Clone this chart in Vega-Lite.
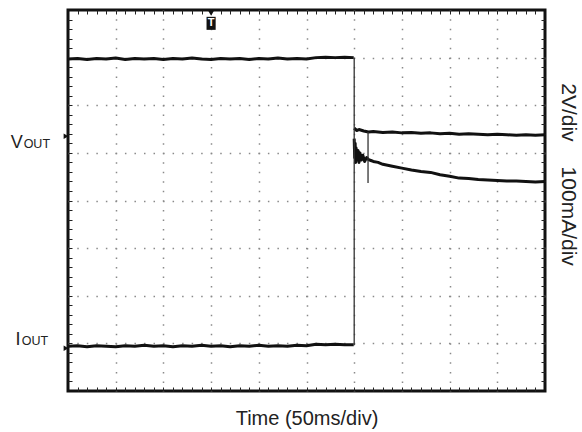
{
  "$schema": "https://vega.github.io/schema/vega-lite/v6.json",
  "width": 477,
  "height": 381,
  "autosize": {"type": "none"},
  "padding": {"left": 68, "top": 10, "right": 37, "bottom": 41},
  "background": "white",
  "config": {"view": {"stroke": "#111", "strokeWidth": 3}, "font": "Liberation Sans"},
  "datasets": {
    "traces": [
      {"s": "vout1", "x": 0.0, "y": 6.97}, {"s": "vout1", "x": 0.2, "y": 6.98}, {"s": "vout1", "x": 0.4, "y": 6.96}, {"s": "vout1", "x": 0.6, "y": 6.98}, {"s": "vout1", "x": 0.8, "y": 6.97}, {"s": "vout1", "x": 1.0, "y": 6.99}, {"s": "vout1", "x": 1.2, "y": 6.96}, {"s": "vout1", "x": 1.4, "y": 6.98}, {"s": "vout1", "x": 1.6, "y": 6.97}, {"s": "vout1", "x": 1.8, "y": 6.98}, {"s": "vout1", "x": 2.0, "y": 6.96}, {"s": "vout1", "x": 2.2, "y": 6.98}, {"s": "vout1", "x": 2.4, "y": 6.97}, {"s": "vout1", "x": 2.6, "y": 6.99}, {"s": "vout1", "x": 2.8, "y": 6.97}, {"s": "vout1", "x": 3.0, "y": 6.96}, {"s": "vout1", "x": 3.2, "y": 6.98}, {"s": "vout1", "x": 3.4, "y": 6.97}, {"s": "vout1", "x": 3.6, "y": 6.98}, {"s": "vout1", "x": 3.8, "y": 6.96}, {"s": "vout1", "x": 4.0, "y": 6.98}, {"s": "vout1", "x": 4.2, "y": 6.97}, {"s": "vout1", "x": 4.4, "y": 6.99}, {"s": "vout1", "x": 4.6, "y": 6.97}, {"s": "vout1", "x": 4.8, "y": 6.98}, {"s": "vout1", "x": 5.0, "y": 6.97}, {"s": "vout1", "x": 5.2, "y": 7.0}, {"s": "vout1", "x": 5.4, "y": 7.01}, {"s": "vout1", "x": 5.6, "y": 7.0}, {"s": "vout1", "x": 5.8, "y": 7.01}, {"s": "vout1", "x": 5.99, "y": 7.0},
      {"s": "vout2", "x": 6.0, "y": 5.52}, {"s": "vout2", "x": 6.05, "y": 5.47}, {"s": "vout2", "x": 6.1, "y": 5.49}, {"s": "vout2", "x": 6.2, "y": 5.46}, {"s": "vout2", "x": 6.3, "y": 5.44}, {"s": "vout2", "x": 6.4, "y": 5.45}, {"s": "vout2", "x": 6.6, "y": 5.43}, {"s": "vout2", "x": 6.8, "y": 5.44}, {"s": "vout2", "x": 7.0, "y": 5.42}, {"s": "vout2", "x": 7.2, "y": 5.43}, {"s": "vout2", "x": 7.4, "y": 5.41}, {"s": "vout2", "x": 7.6, "y": 5.42}, {"s": "vout2", "x": 7.8, "y": 5.4}, {"s": "vout2", "x": 8.0, "y": 5.41}, {"s": "vout2", "x": 8.2, "y": 5.39}, {"s": "vout2", "x": 8.4, "y": 5.4}, {"s": "vout2", "x": 8.6, "y": 5.39}, {"s": "vout2", "x": 8.8, "y": 5.38}, {"s": "vout2", "x": 9.0, "y": 5.39}, {"s": "vout2", "x": 9.2, "y": 5.38}, {"s": "vout2", "x": 9.4, "y": 5.37}, {"s": "vout2", "x": 9.6, "y": 5.38}, {"s": "vout2", "x": 9.8, "y": 5.37}, {"s": "vout2", "x": 10.0, "y": 5.38},
      {"s": "iout1", "x": 0.0, "y": 0.94}, {"s": "iout1", "x": 0.2, "y": 0.95}, {"s": "iout1", "x": 0.4, "y": 0.93}, {"s": "iout1", "x": 0.6, "y": 0.95}, {"s": "iout1", "x": 0.8, "y": 0.94}, {"s": "iout1", "x": 1.0, "y": 0.93}, {"s": "iout1", "x": 1.2, "y": 0.95}, {"s": "iout1", "x": 1.4, "y": 0.94}, {"s": "iout1", "x": 1.6, "y": 0.96}, {"s": "iout1", "x": 1.8, "y": 0.94}, {"s": "iout1", "x": 2.0, "y": 0.95}, {"s": "iout1", "x": 2.2, "y": 0.93}, {"s": "iout1", "x": 2.4, "y": 0.95}, {"s": "iout1", "x": 2.6, "y": 0.94}, {"s": "iout1", "x": 2.8, "y": 0.96}, {"s": "iout1", "x": 3.0, "y": 0.94}, {"s": "iout1", "x": 3.2, "y": 0.95}, {"s": "iout1", "x": 3.4, "y": 0.93}, {"s": "iout1", "x": 3.6, "y": 0.95}, {"s": "iout1", "x": 3.8, "y": 0.94}, {"s": "iout1", "x": 4.0, "y": 0.96}, {"s": "iout1", "x": 4.2, "y": 0.94}, {"s": "iout1", "x": 4.4, "y": 0.95}, {"s": "iout1", "x": 4.6, "y": 0.94}, {"s": "iout1", "x": 4.8, "y": 0.96}, {"s": "iout1", "x": 5.0, "y": 0.95}, {"s": "iout1", "x": 5.2, "y": 0.98}, {"s": "iout1", "x": 5.4, "y": 0.97}, {"s": "iout1", "x": 5.6, "y": 0.98}, {"s": "iout1", "x": 5.8, "y": 0.97}, {"s": "iout1", "x": 5.99, "y": 0.97},
      {"s": "iout2", "x": 6.0, "y": 5.3}, {"s": "iout2", "x": 6.01, "y": 4.9}, {"s": "iout2", "x": 6.02, "y": 5.2}, {"s": "iout2", "x": 6.03, "y": 4.8}, {"s": "iout2", "x": 6.04, "y": 5.1}, {"s": "iout2", "x": 6.06, "y": 4.85}, {"s": "iout2", "x": 6.08, "y": 5.05}, {"s": "iout2", "x": 6.1, "y": 4.8}, {"s": "iout2", "x": 6.12, "y": 5.0}, {"s": "iout2", "x": 6.15, "y": 4.85}, {"s": "iout2", "x": 6.18, "y": 4.95}, {"s": "iout2", "x": 6.22, "y": 4.82}, {"s": "iout2", "x": 6.26, "y": 4.9}, {"s": "iout2", "x": 6.3, "y": 4.86}, {"s": "iout2", "x": 6.35, "y": 4.84}, {"s": "iout2", "x": 6.4, "y": 4.82}, {"s": "iout2", "x": 6.5, "y": 4.8}, {"s": "iout2", "x": 6.6, "y": 4.76}, {"s": "iout2", "x": 6.8, "y": 4.72}, {"s": "iout2", "x": 7.0, "y": 4.68}, {"s": "iout2", "x": 7.2, "y": 4.64}, {"s": "iout2", "x": 7.4, "y": 4.61}, {"s": "iout2", "x": 7.6, "y": 4.59}, {"s": "iout2", "x": 7.8, "y": 4.54}, {"s": "iout2", "x": 8.0, "y": 4.51}, {"s": "iout2", "x": 8.2, "y": 4.47}, {"s": "iout2", "x": 8.4, "y": 4.46}, {"s": "iout2", "x": 8.6, "y": 4.44}, {"s": "iout2", "x": 8.8, "y": 4.43}, {"s": "iout2", "x": 9.0, "y": 4.42}, {"s": "iout2", "x": 9.2, "y": 4.41}, {"s": "iout2", "x": 9.4, "y": 4.41}, {"s": "iout2", "x": 9.6, "y": 4.4}, {"s": "iout2", "x": 9.8, "y": 4.39}, {"s": "iout2", "x": 10.0, "y": 4.4}
    ],
    "steps": [
      {"x": 6.0, "y": 0.96, "y2": 7.0},
      {"x": 6.29, "y": 4.37, "y2": 5.44}
    ],
    "markers": [
      {"ch": "VOUT", "x": 0.0, "y": 5.35},
      {"ch": "IOUT", "x": 0.0, "y": 0.9}
    ],
    "trigger": [
      {"t": "T", "x": 3.0, "y": 7.72}
    ],
    "big": [
      {"t": "V", "x": -1.2, "y": 5.1},
      {"t": "I", "x": -1.1, "y": 0.97}
    ],
    "sub": [
      {"t": "OUT", "x": -0.93, "y": 5.1},
      {"t": "OUT", "x": -0.97, "y": 0.97}
    ],
    "scales": [
      {"t": "2V/div", "x": 10.48, "y": 5.85},
      {"t": "100mA/div", "x": 10.48, "y": 3.67}
    ]
  },
  "layer": [
    {
      "data": {"name": "traces"},
      "mark": {"type": "line", "color": "#111", "strokeWidth": 3, "strokeJoin": "round"},
      "encoding": {
        "x": {"field": "x", "type": "quantitative", "scale": {"domain": [0, 10], "nice": false, "zero": false},
          "axis": {"orient": "bottom", "values": [1, 2, 3, 4, 5, 6, 7, 8, 9], "grid": true, "gridColor": "#8a8a8a", "gridWidth": 1.5, "gridDash": [1.5, 8.03], "gridDashOffset": 0.75, "ticks": false, "labels": false, "domain": false, "title": "Time (50ms/div)", "titleFontSize": 20, "titleFontWeight": "normal", "titleColor": "#222", "titleFont": "Liberation Sans", "titlePadding": 17}},
        "y": {"field": "y", "type": "quantitative", "scale": {"domain": [0, 8], "nice": false, "zero": false},
          "axis": {"orient": "left", "values": [1, 2, 3, 4, 5, 6, 7], "grid": true, "gridColor": "#8a8a8a", "gridWidth": 1.5, "gridDash": [1.5, 8.03], "gridDashOffset": 0.75, "ticks": false, "labels": false, "domain": false, "title": null}},
        "detail": {"field": "s"}
      }
    },
    {
      "data": {"name": "steps"},
      "mark": {"type": "rule", "color": "#333", "strokeWidth": 1.3},
      "encoding": {
        "x": {"field": "x", "type": "quantitative",
          "axis": {"orient": "bottom", "values": [0.2, 0.4, 0.6, 0.8, 1.2, 1.4, 1.6, 1.8, 2.2, 2.4, 2.6, 2.8, 3.2, 3.4, 3.6, 3.8, 4.2, 4.4, 4.6, 4.8, 5.2, 5.4, 5.6, 5.8, 6.2, 6.4, 6.6, 6.8, 7.2, 7.4, 7.6, 7.8, 8.2, 8.4, 8.6, 8.8, 9.2, 9.4, 9.6, 9.8, 1, 2, 3, 4, 5, 6, 7, 8, 9], "grid": false, "ticks": true, "tickSize": -4, "tickColor": "#222", "tickWidth": 1, "labels": false, "domain": false, "title": null}},
        "y": {"field": "y", "type": "quantitative",
          "axis": {"orient": "left", "values": [0.2, 0.4, 0.6, 0.8, 1.2, 1.4, 1.6, 1.8, 2.2, 2.4, 2.6, 2.8, 3.2, 3.4, 3.6, 3.8, 4.2, 4.4, 4.6, 4.8, 5.2, 5.4, 5.6, 5.8, 6.2, 6.4, 6.6, 6.8, 7.2, 7.4, 7.6, 7.8, 1, 2, 3, 4, 5, 6, 7], "grid": false, "ticks": true, "tickSize": -4, "tickColor": "#222", "tickWidth": 1, "labels": false, "domain": false, "title": null}},
        "y2": {"field": "y2"}
      }
    },
    {
      "data": {"name": "markers"},
      "mark": {"type": "point", "shape": "triangle-right", "filled": true, "color": "#111", "size": 30, "opacity": 1, "xOffset": -2},
      "encoding": {
        "x": {"field": "x", "type": "quantitative",
          "axis": {"orient": "top", "values": [0.2, 0.4, 0.6, 0.8, 1.2, 1.4, 1.6, 1.8, 2.2, 2.4, 2.6, 2.8, 3.2, 3.4, 3.6, 3.8, 4.2, 4.4, 4.6, 4.8, 5.2, 5.4, 5.6, 5.8, 6.2, 6.4, 6.6, 6.8, 7.2, 7.4, 7.6, 7.8, 8.2, 8.4, 8.6, 8.8, 9.2, 9.4, 9.6, 9.8, 1, 2, 3, 4, 5, 6, 7, 8, 9], "grid": false, "ticks": true, "tickSize": -4, "tickColor": "#222", "tickWidth": 1, "labels": false, "domain": false, "title": null}},
        "y": {"field": "y", "type": "quantitative",
          "axis": {"orient": "right", "values": [0.2, 0.4, 0.6, 0.8, 1.2, 1.4, 1.6, 1.8, 2.2, 2.4, 2.6, 2.8, 3.2, 3.4, 3.6, 3.8, 4.2, 4.4, 4.6, 4.8, 5.2, 5.4, 5.6, 5.8, 6.2, 6.4, 6.6, 6.8, 7.2, 7.4, 7.6, 7.8, 1, 2, 3, 4, 5, 6, 7], "grid": false, "ticks": true, "tickSize": -4, "tickColor": "#222", "tickWidth": 1, "labels": false, "domain": false, "title": null}}
      }
    },
    {
      "data": {"name": "trigger"},
      "mark": {"type": "point", "shape": "triangle-down", "filled": true, "color": "#111", "size": 60, "opacity": 1, "yOffset": -11},
      "encoding": {
        "x": {"field": "x", "type": "quantitative", "axis": null},
        "y": {"field": "y", "type": "quantitative", "axis": null}
      }
    },
    {
      "data": {"name": "trigger"},
      "mark": {"type": "point", "shape": "M-0.7,-1H0.7V1H-0.7Z", "filled": true, "color": "#111", "size": 170, "opacity": 1},
      "encoding": {
        "x": {"field": "x", "type": "quantitative", "axis": null},
        "y": {"field": "y", "type": "quantitative", "axis": null}
      }
    },
    {
      "data": {"name": "trigger"},
      "mark": {"type": "text", "color": "white", "fontSize": 11, "fontWeight": "bold", "align": "center", "baseline": "middle", "font": "Liberation Sans"},
      "encoding": {
        "x": {"field": "x", "type": "quantitative", "axis": null},
        "y": {"field": "y", "type": "quantitative", "axis": null},
        "text": {"field": "t"}
      }
    },
    {
      "data": {"name": "big"},
      "mark": {"type": "text", "color": "#222", "fontSize": 18, "align": "left", "baseline": "alphabetic", "font": "Liberation Sans"},
      "encoding": {
        "x": {"field": "x", "type": "quantitative", "axis": null},
        "y": {"field": "y", "type": "quantitative", "axis": null},
        "text": {"field": "t"}
      }
    },
    {
      "data": {"name": "sub"},
      "mark": {"type": "text", "color": "#222", "fontSize": 12.5, "align": "left", "baseline": "alphabetic", "font": "Liberation Sans"},
      "encoding": {
        "x": {"field": "x", "type": "quantitative", "axis": null},
        "y": {"field": "y", "type": "quantitative", "axis": null},
        "text": {"field": "t"}
      }
    },
    {
      "data": {"name": "scales"},
      "mark": {"type": "text", "color": "#222", "fontSize": 21, "angle": 90, "align": "center", "baseline": "middle", "font": "Liberation Sans"},
      "encoding": {
        "x": {"field": "x", "type": "quantitative", "axis": null},
        "y": {"field": "y", "type": "quantitative", "axis": null},
        "text": {"field": "t"}
      }
    }
  ],
  "resolve": {"axis": {"x": "independent", "y": "independent"}}
}
